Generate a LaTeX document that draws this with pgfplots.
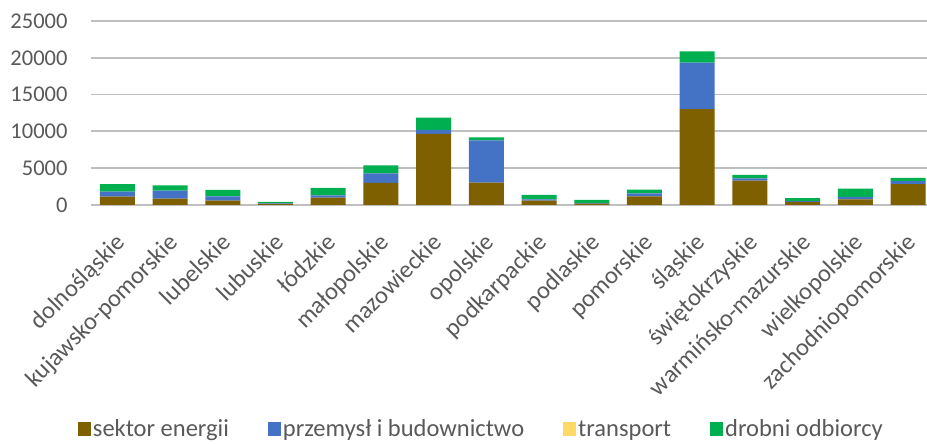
\documentclass[border=0pt]{standalone}
\usepackage{pgfplots}
\pgfplotsset{compat=1.18}
\usepackage{pgfplotstable}
\usepackage{fontspec}
\setmainfont{Carlito}
\definecolor{cEn}{HTML}{7F6000}
\definecolor{cPr}{HTML}{4472C4}
\definecolor{cTr}{HTML}{FFD966}
\definecolor{cDr}{HTML}{00B050}
\definecolor{txt}{HTML}{595959}
\definecolor{grid}{HTML}{E3E3E3}
\definecolor{axl}{HTML}{BFBFBF}
\pgfplotstableread{
x en pr tr dr
0 1130 680 0 1040
1 860 1080 0 730
2 590 590 0 860
3 150 60 0 200
4 990 320 0 1000
5 2990 1310 0 1090
6 9650 540 0 1670
7 3030 5760 0 410
8 590 180 0 590
9 200 60 0 420
10 1180 410 0 490
11 13040 6300 0 1540
12 3300 330 0 450
13 410 130 0 410
14 770 320 0 1120
15 2850 410 0 410
}\data
\begin{document}
\fontsize{22pt}{26pt}\selectfont
\begin{tikzpicture}
\begin{axis}[
  at={(91pt,239pt)}, anchor=south west,
  scale only axis, width=836pt, height=184pt,
  ybar stacked, bar width=35pt,
  xmin=-0.5, xmax=15.36, ymin=0, ymax=25000,
  xtick=data,
  xticklabels={dolnośląskie,kujawsko-pomorskie,lubelskie,lubuskie,łódzkie,małopolskie,mazowieckie,opolskie,podkarpackie,podlaskie,pomorskie,śląskie,świętokrzyskie,warmińsko-mazurskie,wielkopolskie,zachodniopomorskie},
  ytick={0,5000,10000,15000,20000,25000},
  scaled y ticks=false,
  /pgf/number format/1000 sep={},
  /pgf/number format/assume math mode=true,
  tick label style={text=txt},
  yticklabel style={font=\fontsize{22.5pt}{26pt}\selectfont, xshift=-16pt},
  xticklabel style={font=\fontsize{24.5pt}{28pt}\selectfont, rotate=45, anchor=north east, inner sep=2pt, xshift=-19pt, yshift=-15pt},
  major tick length=0pt,
  xmajorgrids=false,
  ymajorgrids, major grid style={grid, line width=1.8pt},
  axis lines*=left,
  y axis line style={draw=none},
  x axis line style={axl, line width=2.8pt, -},
  clip=false,
  legend columns=4,
  legend style={at={(0.467,-1.223)}, anchor=center, draw=none, fill=none,
    font=\fontsize{24.5pt}{28pt}\selectfont, text=txt,
    /tikz/every even column/.append style={column sep=37pt}},
  legend image code/.code={\fill[#1] (0pt,-6pt) rectangle (13pt,8pt);},
]
\addplot[fill=cEn, draw=none] table[x=x,y=en]{\data};
\addlegendentry{sektor energii}
\addplot[fill=cPr, draw=none] table[x=x,y=pr]{\data};
\addlegendentry{przemysł i budownictwo}
\addplot[fill=cTr, draw=none] table[x=x,y=tr]{\data};
\addlegendentry{transport}
\addplot[fill=cDr, draw=none] table[x=x,y=dr]{\data};
\addlegendentry{drobni odbiorcy}
\end{axis}
\pgfresetboundingbox
\useasboundingbox (0,0) rectangle (927pt,444pt);
\end{tikzpicture}
\end{document}
